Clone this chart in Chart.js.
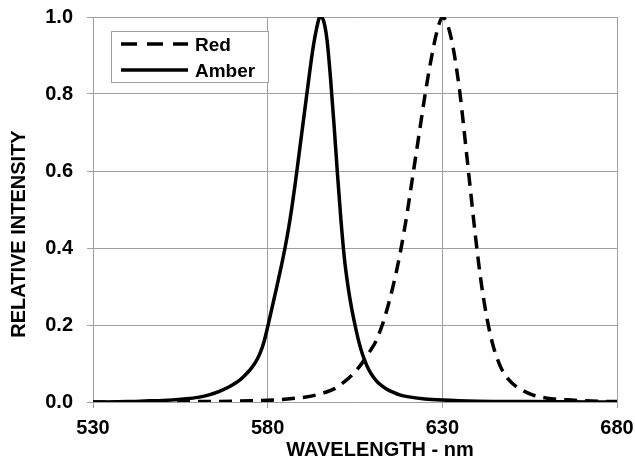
<!DOCTYPE html>
<html><head><meta charset="utf-8">
<script src="https://cdn.jsdelivr.net/npm/chart.js@4/dist/chart.umd.min.js"></script>
<style>html,body{margin:0;padding:0;background:#fff}#wrap{width:635px;height:462px}</style>
</head><body><div id="wrap"><canvas id="c" width="635" height="462"></canvas></div>
<script>
const seriesNames = ['Red', 'Amber'];
const xTickValues = [530, 580, 630, 680];
const yTickValues = [0, 0.2, 0.4, 0.6, 0.8, 1.0];
const xTitle = 'WAVELENGTH - nm';
const yTitle = 'RELATIVE INTENSITY';

const redWavelengths = [530,560,575,582,587,591,595,599,602,605,607,609,611,612,613,614,615,616,617,618,619,620,621,622,623,624,625,626,627,628,629,630,631,632,633,634,635,636,637,638,639,640,641,642,643,644,645,646,647,649,651,653,656,660,667,675,680];
const redIntensity = [0,0.001,0.003,0.005,0.009,0.013,0.021,0.034,0.053,0.078,0.101,0.128,0.158,0.18,0.205,0.235,0.268,0.305,0.345,0.39,0.44,0.495,0.555,0.615,0.675,0.735,0.795,0.85,0.9,0.945,0.98,1.0,0.99,0.965,0.925,0.87,0.805,0.725,0.64,0.555,0.47,0.39,0.318,0.258,0.207,0.165,0.132,0.106,0.085,0.058,0.041,0.03,0.018,0.01,0.005,0.002,0.001];

const amberWavelengths = [530,540,546,550,556,560,563,566,568,570,572,573,574,575,576,577,578,579,580,581,582,583,584,585,586,587,588,589,590,591,592,593,594,595,596,597,598,599,600,601,602,603,604,605,606,607,608,609,610,611,612,614,616,618,620,625,630,640,655,680];
const amberIntensity = [0,0.001,0.003,0.004,0.008,0.012,0.018,0.027,0.035,0.045,0.057,0.065,0.074,0.084,0.096,0.111,0.131,0.158,0.195,0.235,0.275,0.315,0.357,0.402,0.452,0.51,0.575,0.645,0.715,0.785,0.855,0.92,0.97,1.0,0.99,0.94,0.84,0.72,0.59,0.47,0.37,0.3,0.245,0.2,0.16,0.128,0.103,0.083,0.068,0.056,0.047,0.034,0.025,0.018,0.014,0.008,0.005,0.002,0.001,0];

const FONT = "'Liberation Sans', Arial, sans-serif";
const GRID = '#a0a0a0';

function pts(xs, ys) { return xs.map((x, i) => ({x: x, y: ys[i]})); }

const overlay = {
  id: 'overlay',
  afterDraw(chart) {
    const ctx = chart.ctx;
    ctx.save();
    ctx.fillStyle = '#000';
    ctx.font = 'bold 20px ' + FONT;
    ctx.textAlign = 'center';
    ctx.textBaseline = 'middle';
    ctx.fillText(xTitle, 380, 450);
    ctx.save();
    ctx.translate(19, 234);
    ctx.rotate(-Math.PI / 2);
    ctx.fillText(yTitle, 0, 0);
    ctx.restore();
    ctx.fillStyle = '#fff';
    ctx.fillRect(111.5, 31.5, 157, 51);
    ctx.strokeStyle = GRID;
    ctx.lineWidth = 1;
    ctx.strokeRect(111.5, 31.5, 157, 51);
    const rows = [44, 70];
    chart.data.datasets.forEach((ds, i) => {
      ctx.strokeStyle = '#000';
      ctx.lineWidth = 3.5;
      ctx.setLineDash(ds.borderDash ? [16, 10] : []);
      ctx.beginPath();
      ctx.moveTo(121, rows[i]);
      ctx.lineTo(188, rows[i]);
      ctx.stroke();
      ctx.setLineDash([]);
      ctx.fillStyle = '#000';
      ctx.textAlign = 'left';
      ctx.textBaseline = 'alphabetic';
      ctx.font = 'bold 19px ' + FONT;
      ctx.fillText(ds.label, 195, rows[i] + 7);
    });
    ctx.restore();
  }
};

new Chart(document.getElementById('c'), {
  type: 'line',
  data: {
    datasets: [
      { label: seriesNames[0], data: pts(redWavelengths, redIntensity), borderColor: '#000', borderWidth: 3.5, borderDash: [13, 8], pointRadius: 0, cubicInterpolationMode: 'monotone', fill: false },
      { label: seriesNames[1], data: pts(amberWavelengths, amberIntensity), borderColor: '#000', borderWidth: 3.5, pointRadius: 0, cubicInterpolationMode: 'monotone', fill: false }
    ]
  },
  options: {
    responsive: false,
    devicePixelRatio: 1,
    animation: false,
    layout: { padding: { top: 17, right: 18, left: 0, bottom: 0 } },
    plugins: { legend: { display: false }, tooltip: { enabled: false } },
    scales: {
      x: {
        type: 'linear', min: 530, max: 680,
        afterBuildTicks(s) { s.ticks = xTickValues.map(v => ({value: v})); },
        afterFit(s) { s.height = 60; s.paddingLeft = 0; s.paddingRight = 0; s.paddingTop = 0; s.paddingBottom = 0; },
        grid: { color: GRID, lineWidth: 1, tickLength: 6 },
        border: { color: GRID },
        ticks: { color: '#000', font: { family: FONT, size: 20, weight: 'bold' }, padding: 8, maxRotation: 0, autoSkip: false, callback: v => String(v) }
      },
      y: {
        type: 'linear', min: 0, max: 1,
        afterBuildTicks(s) { s.ticks = yTickValues.map(v => ({value: v})); },
        afterFit(s) { s.width = 93; s.paddingLeft = 0; s.paddingRight = 0; s.paddingTop = 0; s.paddingBottom = 0; },
        grid: { color: GRID, lineWidth: 1, tickLength: 6 },
        border: { color: GRID },
        ticks: { color: '#000', font: { family: FONT, size: 20, weight: 'bold' }, padding: 14, autoSkip: false, callback: v => Number(v).toFixed(1) }
      }
    }
  },
  plugins: [overlay]
});
</script>
</body></html>
